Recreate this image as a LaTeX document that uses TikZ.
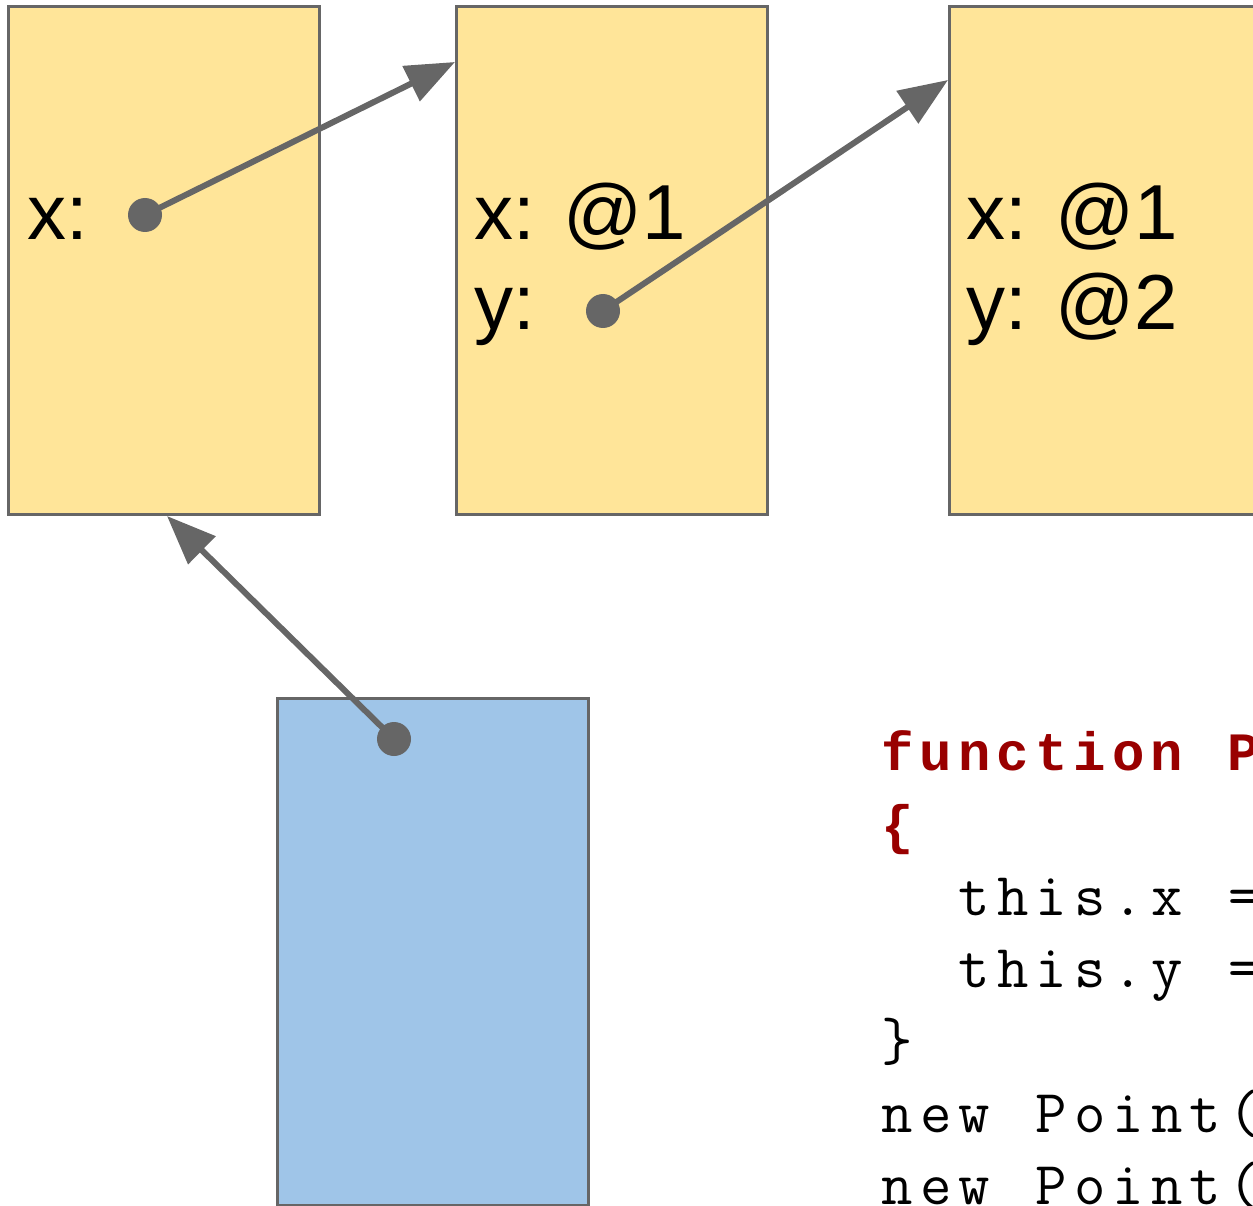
\documentclass[tikz,border=0pt]{standalone}
\usepackage{fontspec}
\setmainfont{Liberation Sans}
\newfontfamily\kwfont{Liberation Mono}
\usetikzlibrary{arrows.meta}
\definecolor{boxyellow}{HTML}{FFE599}
\definecolor{boxblue}{HTML}{9FC5E8}
\definecolor{edgegray}{HTML}{666666}
\definecolor{kwred}{HTML}{990000}
% set each character in a fixed 38.5pt cell (Courier-like spacing)
\makeatletter
\newcommand\cellrow[1]{\cellloop#1\relax}
\def\cellloop#1{\ifx\relax#1\else\makebox[38.5pt]{#1}\expandafter\cellloop\fi}
\makeatother
\tikzset{
  membox/.style={draw=edgegray, line width=3pt, inner sep=0pt, outer sep=0pt,
    minimum width=311pt, minimum height=507pt},
  ybox/.style={membox, fill=boxyellow},
  bbox/.style={membox, fill=boxblue},
  refdot/.style={circle, fill=edgegray, inner sep=0pt, minimum size=34pt},
  refarrow/.style={draw=edgegray, line width=6pt,
    -{Triangle[length=49pt, width=38pt]}},
  lbl/.style={anchor=base west, inner sep=0pt, font=\fontsize{78}{90}\selectfont},
  code/.style={anchor=base west, inner sep=0pt,
    font=\ttfamily\fontsize{61}{72}\selectfont},
  kw/.style={anchor=base west, inner sep=0pt, text=kwred,
    font=\kwfont\bfseries\fontsize{54}{72}\selectfont}
}
\begin{document}
\begin{tikzpicture}[x=1pt, y=-1pt]
\useasboundingbox (0,0) rectangle (1253,1206);
\clip (0,0) rectangle (1253,1206);
% boxes
\node[ybox] (A) at (164,260.5) {};
\node[ybox] (B) at (611.5,260.5) {};
\node[ybox] (C) at (1105,260.5) {};
\node[bbox] (D) at (432.5,951.5) {};
% labels
\node[lbl] (ax) at (27,240) {x:};
\node[lbl] (bx) at (474,240) {x: @1};
\node[lbl] (by) at (474,330) {y:};
\node[lbl] (cx) at (966,240) {x: @1};
\node[lbl] (cy) at (966,330) {y: @2};
% dots
\node[refdot] (dA) at (145,215) {};
\node[refdot] (dB) at (603,311) {};
\node[refdot] (dD) at (394,739) {};
% arrow targets
\coordinate (tB) at (455,62);
\coordinate (tC) at (948,80);
\coordinate (tA) at (167,516);
\draw[refarrow] (dA.center) -- (tB);
\draw[refarrow] (dB.center) -- (tC);
\draw[refarrow] (dD.center) -- (tA);
% code
\node[kw] (c1) at (878,770) {\cellrow{function~P}};
\node[kw] (c2) at (878,843) {\cellrow{\{}};
\node[code] (c3) at (955,915) {\cellrow{this.x~=}};
\node[code] (c4) at (955,987) {\cellrow{this.y~=}};
\node[code] (c5) at (878,1060) {\cellrow{\}}};
\node[code] (c6) at (878,1132) {\cellrow{new~Point(}};
\node[code] (c7) at (878,1204) {\cellrow{new~Point(}};
\end{tikzpicture}
\end{document}
